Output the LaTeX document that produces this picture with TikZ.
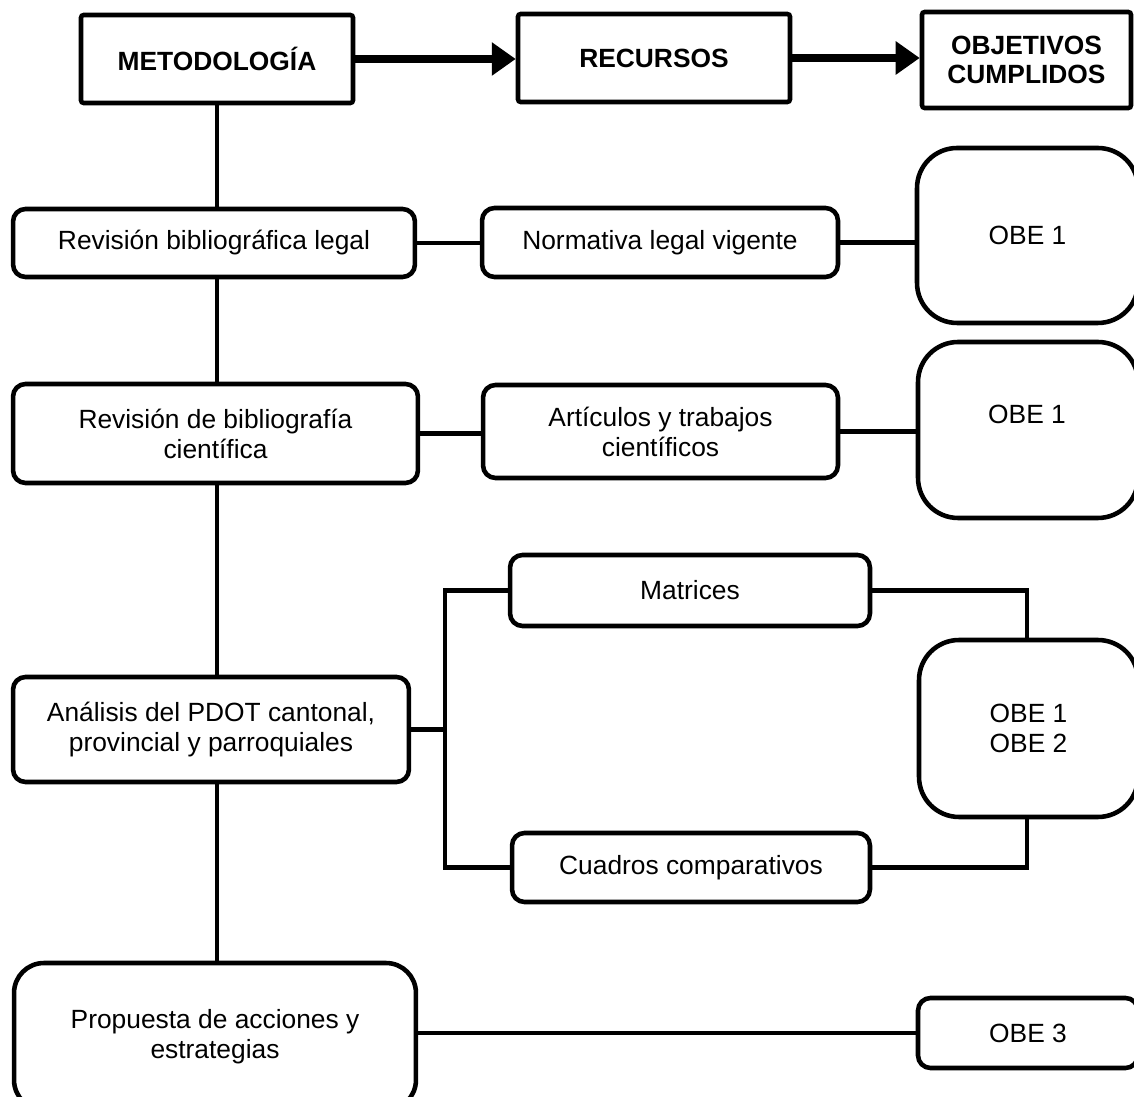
\documentclass[tikz,border=0pt]{standalone}
\usepackage{fontspec}
\setmainfont{Liberation Sans}
\usetikzlibrary{arrows.meta}
\tikzset{
  base/.style={draw=black, line width=2.6pt, fill=white, align=center, inner sep=0pt,
    font=\fontsize{15pt}{17pt}\selectfont},
  sqbox/.style={base, rounded corners=1.5pt, font=\fontsize{15pt}{17pt}\selectfont\bfseries},
  rbox/.style={base, rounded corners=0.25cm},
  bigbox/.style={base, rounded corners=0.8cm},
  conn/.style={line width=2.6pt},
  arr/.style={line width=5pt, -{Triangle[length=0.48cm,width=0.64cm]}},
  txt/.style={align=center, inner sep=0pt, font=\fontsize{15pt}{17pt}\selectfont}
}
\begin{document}
\begin{tikzpicture}[x=0.02cm, y=-0.02cm]
\useasboundingbox (0,0) rectangle (1134,1097);
\clip (0,0) rectangle (1134,1097);

% header boxes
\node[sqbox, minimum width=5.44cm, minimum height=1.76cm] (met) at (217,59) {METODOLOGÍA};
\node[sqbox, minimum width=5.44cm, minimum height=1.76cm] (rec) at (654,58) {RECURSOS};
\node[sqbox, minimum width=4.18cm, minimum height=1.92cm] (obj) at (1026.5,60) {OBJETIVOS\\CUMPLIDOS};

% methodology column
\node[rbox, minimum width=8.04cm, minimum height=1.36cm] (rbl) at (214,243) {Revisión bibliográfica legal};
\node[rbox, minimum width=8.1cm, minimum height=1.98cm] (rbc) at (215.5,433.5) {Revisión de bibliografía\\científica};
\node[rbox, minimum width=7.92cm, minimum height=2.1cm] (ana) at (211,729.5) {Análisis del PDOT cantonal,\\provincial y parroquiales};
\node[bigbox, rounded corners=0.6cm, minimum width=8.04cm, minimum height=2.94cm] (pro) at (215,1036.5) {Propuesta de acciones y\\estrategias};

% resources column
\node[rbox, minimum width=7.12cm, minimum height=1.38cm] (nlv) at (660,242.5) {Normativa legal vigente};
\node[rbox, minimum width=7.1cm, minimum height=1.86cm] (art) at (660.5,431.5) {Artículos y trabajos\\científicos};
\node[rbox, minimum width=7.2cm, minimum height=1.42cm] (mat) at (690,590.5) {Matrices};
\node[rbox, minimum width=7.16cm, minimum height=1.38cm] (cua) at (691,867.5) {Cuadros comparativos};

% objectives column
\node[bigbox, minimum width=4.42cm, minimum height=3.5cm] (obe1a) at (1027.5,235.5) {OBE 1};
\node[bigbox, minimum width=4.4cm, minimum height=3.52cm] (obe1b) at (1028,430) {};
\node[txt] (obe1bt) at (1027,414) {OBE 1};
\node[bigbox, minimum width=4.38cm, minimum height=3.54cm] (obe12) at (1028.5,728.5) {OBE 1\\OBE 2};
\node[rbox, minimum width=4.4cm, minimum height=1.4cm] (obe3) at (1028,1033) {OBE 3};

% header arrows
\draw[arr] (met.east) -- (met.east -| rec.west);
\draw[arr] (rec.east) -- (rec.east -| obj.west);

% vertical spine
\draw[conn] (met.south) -- (met.south |- rbl.north);
\draw[conn] (met.south |- rbl.south) -- (met.south |- rbc.north);
\draw[conn] (met.south |- rbc.south) -- (met.south |- ana.north);
\draw[conn] (met.south |- ana.south) -- (met.south |- pro.north);

% rows
\draw[conn] (rbl.east) -- (rbl.east -| nlv.west);
\draw[conn] (nlv.east) -- (nlv.east -| obe1a.west);
\draw[conn] (rbc.east) -- (rbc.east -| art.west);
\draw[conn] (art.east) -- (art.east -| obe1b.west);
\draw[conn] (obe3.west -| pro.east) -- (obe3.west);

% bracket for analysis
\coordinate (brx) at (445,0);
\coordinate (rrx) at (1027,0);
\draw[conn] (ana.east) -- (ana.east -| brx);
\draw[conn] (mat.west) -- (mat.west -| brx) -- (cua.west -| brx) -- (cua.west);
\draw[conn] (mat.east) -- (mat.east -| rrx) -- (obe12.north -| rrx);
\draw[conn] (cua.east) -- (cua.east -| rrx) -- (obe12.south -| rrx);
\end{tikzpicture}
\end{document}
